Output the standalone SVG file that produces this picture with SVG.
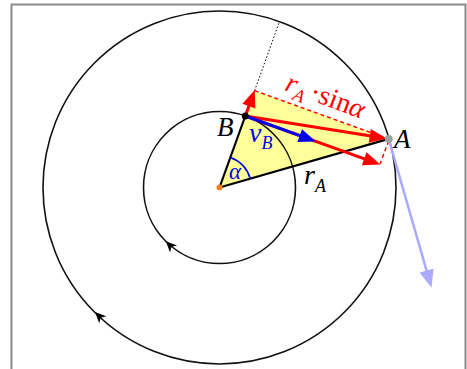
<svg xmlns="http://www.w3.org/2000/svg" width="467" height="369" viewBox="0 0 467 369">
<defs>
<style>
.circ{fill:none;stroke:#111;stroke-width:1.6}
.rad{stroke:#000;stroke-width:2.2;fill:none}
.red{stroke:#ff0000;stroke-width:3;fill:none}
.rdash{stroke:#ff0000;stroke-width:1.5;stroke-dasharray:4 3;fill:none}
.lbl{font-family:"Liberation Serif","DejaVu Serif",serif;font-style:italic}
</style>
<marker id="mr" markerUnits="userSpaceOnUse" markerWidth="18" markerHeight="16" viewBox="0 -7 15 14" refX="8" refY="0" orient="auto"><path d="M0,-6 L15,0 L0,6 z" fill="#ff0000"/></marker>
<marker id="mb" markerUnits="userSpaceOnUse" markerWidth="18" markerHeight="16" viewBox="0 -7 15 14" refX="8" refY="0" orient="auto"><path d="M0,-6 L15,0 L0,6 z" fill="#0000ee"/></marker>
<marker id="ml" markerUnits="userSpaceOnUse" markerWidth="18" markerHeight="16" viewBox="0 -7 16 14" refX="8" refY="0" orient="auto"><path d="M0,-6.5 L16,0 L0,6.5 z" fill="#aaaaff"/></marker>
<path id="ah" d="M0,0 L-11,-5 L-8,0 L-11,5 Z" fill="#000"/>
</defs>
<rect x="0" y="0" width="467" height="369" fill="#fff"/>
<path d="M11.5,369 V4.5 H465.5 V369" fill="none" stroke="#8a8a8a" stroke-width="2"/>

<g id="triangle"><polygon points="219.5,187.5 254.6,90.6 388.7,138.9" fill="#ffff99"/></g>

<g id="outer-circle"><circle class="circ" cx="219.5" cy="187.5" r="176.5"/><use href="#ah" transform="translate(95,312) rotate(225)"/></g>
<g id="inner-circle"><circle class="circ" cx="219.5" cy="187.5" r="76"/><use href="#ah" transform="translate(165.8,241.2) rotate(225)"/></g>

<g id="connectors">
<line x1="254.6" y1="90.6" x2="279.3" y2="22.1" stroke="#000" stroke-width="1" stroke-dasharray="1.5 2"/>
<line class="rad" x1="219.5" y1="187.5" x2="245.3" y2="116"/>
<line class="rad" x1="219.5" y1="187.5" x2="388.7" y2="138.9"/>
<path d="M230.4,157.4 A32,32 0 0 1 250.3,178.7" fill="none" stroke="#0000ee" stroke-width="1.6"/>
<line class="rdash" x1="254.6" y1="90.6" x2="386" y2="138"/>
<line class="rdash" x1="388.7" y1="141" x2="380" y2="164"/>
<line class="red" x1="245.3" y1="116" x2="252" y2="97.6" marker-end="url(#mr)"/>
<line class="red" x1="245.3" y1="116" x2="378.8" y2="137.3" marker-end="url(#mr)"/>
<line class="red" x1="245.3" y1="116" x2="372.8" y2="161.9" marker-end="url(#mr)"/>
<line x1="245.3" y1="116" x2="308.3" y2="138.7" stroke="#0000ee" stroke-width="3" marker-end="url(#mb)"/>
<line x1="388.7" y1="138.9" x2="429" y2="279.2" stroke="#aaaaff" stroke-width="2.5" marker-end="url(#ml)"/>
</g>

<g id="O"><circle cx="219.5" cy="187.5" r="3" fill="#ff7f1a"/></g>
<g id="B"><circle cx="245.3" cy="116" r="3.5" fill="#000"/><text class="lbl" x="217" y="136" font-size="27">B</text></g>
<g id="A"><circle cx="388.7" cy="138.9" r="4" fill="#a0a0a0"/><text class="lbl" x="394" y="148" font-size="27">A</text></g>

<g id="labels">
<text class="lbl" x="229" y="179" font-size="23" fill="#0000ee">α</text>
<text class="lbl" x="249" y="142" font-size="28" fill="#0000ee">v<tspan font-size="18" dy="7">B</tspan></text>
<text class="lbl" x="304" y="184" font-size="28" fill="#000">r<tspan font-size="18" dy="8">A</tspan></text>
<g transform="translate(254.6,90.6) rotate(20.6)">
<text class="lbl" x="27" y="-11" font-size="28" fill="#ff0000">r<tspan font-size="18" dy="6">A</tspan><tspan dy="-6" dx="4" font-style="normal">·sin</tspan>α</text>
</g>
</g>
</svg>
